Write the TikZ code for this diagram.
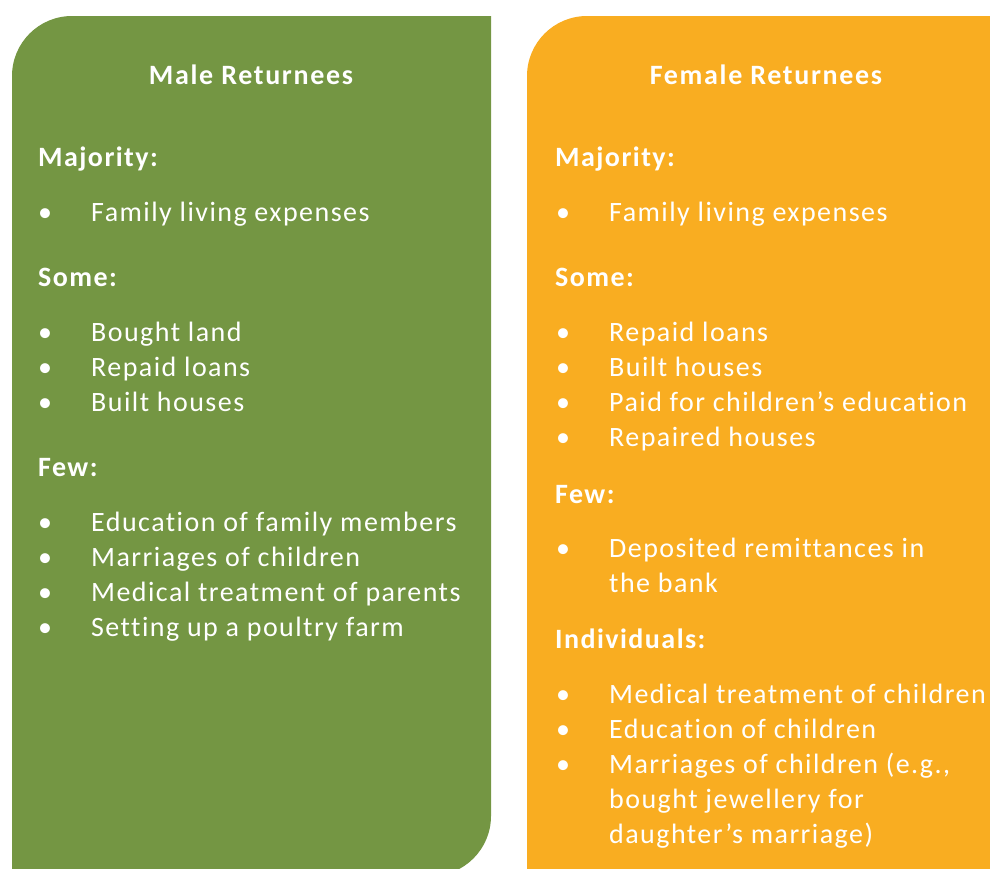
\documentclass[tikz,border=0pt]{standalone}
\usepackage{fontspec}
\setmainfont{Carlito}[LetterSpace=5.2, Ligatures={NoCommon}]
\newfontfamily\ttlfont{Carlito}[LetterSpace=6, Ligatures={NoCommon}]
\definecolor{gpanel}{RGB}{116,150,67}
\definecolor{opanel}{RGB}{249,173,33}
\tikzset{
  txt/.style={anchor=base west, inner sep=0pt, text=white, font=\fontsize{28}{35}\selectfont},
  hd/.style={anchor=base west, inner sep=0pt, text=white, font=\fontsize{28}{35}\selectfont\bfseries},
  ttl/.style={anchor=base, inner sep=0pt, text=white, font=\ttlfont\fontsize{28}{35}\selectfont\bfseries},
  bul/.style={anchor=base, inner sep=0pt, text=white, font=\fontsize{28}{35}\selectfont},
}
\begin{document}
\begin{tikzpicture}[x=1pt,y=-1pt]
\useasboundingbox (0,0) rectangle (990,868);
\clip (0,0) rectangle (990,868);
% panels
\fill[gpanel] (12,880) -- (12,76) arc[start angle=180,end angle=270,radius=60] -- (491,16) -- (491,816) arc[start angle=0,end angle=90,radius=60] -- (12,876) -- cycle;
\fill[opanel] (527,880) -- (527,76) arc[start angle=180,end angle=270,radius=60] -- (1000,16) -- (1000,880) -- cycle;
% male
\node[ttl] (mt) at (251,84.5) {Male Returnees};
\node[hd] (m1) at (38,166) {Majority:};
\node[bul] (mb1) at (45,221) {•}; \node[txt] (mi1) at (91,221) {Family living expenses};
\node[hd] (m2) at (38,286) {Some:};
\node[bul] (mb2) at (45,341) {•}; \node[txt] (mi2) at (91,341) {Bought land};
\node[bul] (mb3) at (45,376) {•}; \node[txt] (mi3) at (91,376) {Repaid loans};
\node[bul] (mb4) at (45,411) {•}; \node[txt] (mi4) at (91,411) {Built houses};
\node[hd] (m3) at (38,476) {Few:};
\node[bul] (mb5) at (45,531) {•}; \node[txt] (mi5) at (91,531) {Education of family members};
\node[bul] (mb6) at (45,566) {•}; \node[txt] (mi6) at (91,566) {Marriages of children};
\node[bul] (mb7) at (45,601) {•}; \node[txt] (mi7) at (91,601) {Medical treatment of parents};
\node[bul] (mb8) at (45,636) {•}; \node[txt] (mi8) at (91,636) {Setting up a poultry farm};
% female
\node[ttl] (ft) at (766,84.5) {Female Returnees};
\node[hd] (f1) at (555,166) {Majority:};
\node[bul] (fb1) at (563,221) {•}; \node[txt] (fi1) at (609,221) {Family living expenses};
\node[hd] (f2) at (555,286) {Some:};
\node[bul] (fb2) at (563,341) {•}; \node[txt] (fi2) at (609,341) {Repaid loans};
\node[bul] (fb3) at (563,376) {•}; \node[txt] (fi3) at (609,376) {Built houses};
\node[bul] (fb4) at (563,411) {•}; \node[txt] (fi4) at (609,411) {Paid for children’s education};
\node[bul] (fb5) at (563,446) {•}; \node[txt] (fi5) at (609,446) {Repaired houses};
\node[hd] (f3) at (555,503) {Few:};
\node[bul] (fb6) at (563,557) {•}; \node[txt] (fi6) at (609,557) {Deposited remittances in};
\node[txt] (fi6b) at (609,592) {the bank};
\node[hd] (f4) at (555,648) {Individuals:};
\node[bul] (fb7) at (563,703) {•}; \node[txt] (fi7) at (609,703) {Medical treatment of children};
\node[bul] (fb8) at (563,738) {•}; \node[txt] (fi8) at (609,738) {Education of children};
\node[bul] (fb9) at (563,773) {•}; \node[txt] (fi9) at (609,773) {Marriages of children (e.g.,};
\node[txt] (fi9b) at (609,808) {bought jewellery for};
\node[txt] (fi9c) at (609,843) {daughter’s marriage)};
\end{tikzpicture}
\end{document}
